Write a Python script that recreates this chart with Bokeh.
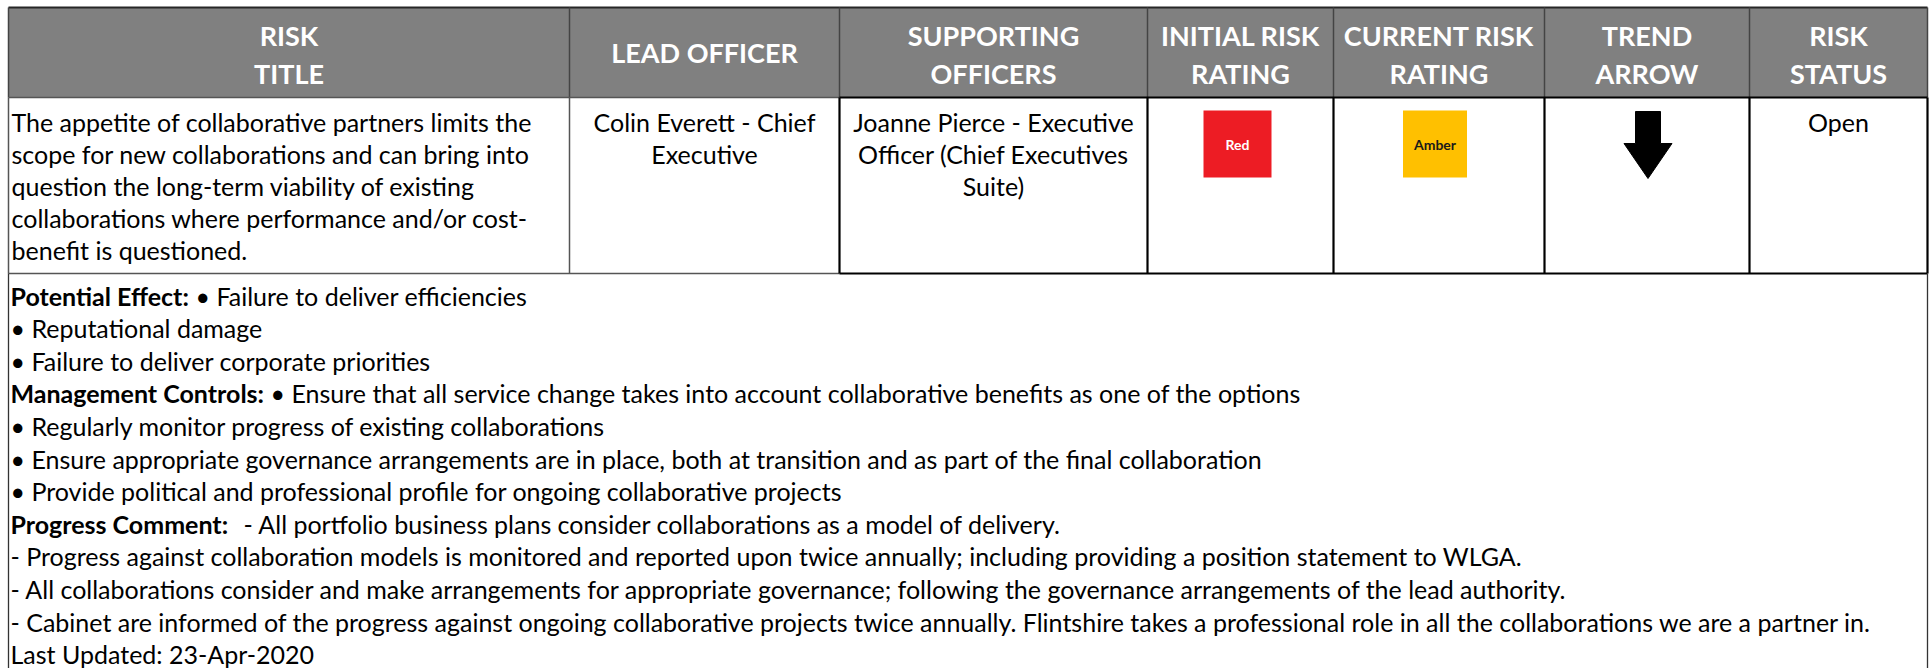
from bokeh.plotting import figure
from bokeh.models import Range1d
from bokeh.core.properties import value
from bokeh.embed import file_html
from bokeh.resources import INLINE

# ---------------- data ----------------
headers = [["RISK", "TITLE"], ["LEAD OFFICER"], ["SUPPORTING", "OFFICERS"],
           ["INITIAL RISK", "RATING"], ["CURRENT RISK", "RATING"],
           ["TREND", "ARROW"], ["RISK", "STATUS"]]
risk_title = ["The appetite of collaborative partners limits the",
              "scope for new collaborations and can bring into",
              "question the long-term viability of existing",
              "collaborations where performance and/or cost-",
              "benefit is questioned."]
lead_officer = ["Colin Everett - Chief", "Executive"]
supporting_officers = ["Joanne Pierce - Executive", "Officer (Chief Executives", "Suite)"]
initial_rating = "Red"
current_rating = "Amber"
trend = "down"
status = "Open"
detail_bold = ["Potential Effect:", "", "", "Management Controls:", "", "", "",
               "Progress Comment:", "", "", "", ""]
detail_text = ["• Failure to deliver efficiencies",
               "• Reputational damage",
               "• Failure to deliver corporate priorities",
               "• Ensure that all service change takes into account collaborative benefits as one of the options",
               "• Regularly monitor progress of existing collaborations",
               "• Ensure appropriate governance arrangements are in place, both at transition and as part of the final collaboration",
               "• Provide political and professional profile for ongoing collaborative projects",
               "- All portfolio business plans consider collaborations as a model of delivery.",
               "- Progress against collaboration models is monitored and reported upon twice annually; including providing a position statement to WLGA.",
               "- All collaborations consider and make arrangements for appropriate governance; following the governance arrangements of the lead authority.",
               "- Cabinet are informed of the progress against ongoing collaborative projects twice annually. Flintshire takes a professional role in all the collaborations we are a partner in.",
               "Last Updated: 23-Apr-2020"]
rating_colors = {"Red": "#ED1C24", "Amber": "#FFC000"}
rating_text_colors = {"Red": "#FFFFFF", "Amber": "#1a1a1a"}

# ---------------- layout ----------------
W, H = 1931, 668
col_edges = [8, 569, 839, 1147, 1333, 1544, 1749, 1927]
head_top, head_bot, row_bot = 7, 97, 273
FONT = "Lato"
BODY = "25px"
HEAD = "27px"

p = figure(width=W, height=H, x_range=Range1d(0, W), y_range=Range1d(H, 0),
           output_backend="svg", toolbar_location=None, min_border=0,
           x_axis_type=None, y_axis_type=None, outline_line_color=None,
           background_fill_color="white", border_fill_color="white")
p.xgrid.visible = False
p.ygrid.visible = False

# header background
p.quad(left=[col_edges[0]], right=[col_edges[-1]], top=[head_top], bottom=[head_bot],
       fill_color="#808080", line_color=None)

# header text
hx, hy, ht = [], [], []
for i, lines in enumerate(headers):
    cx = (col_edges[i] + col_edges[i + 1]) / 2
    if len(lines) == 1:
        ys = [(head_top + head_bot) / 2]
    else:
        ys = [35, 73]
    for y, t in zip(ys, lines):
        hx.append(cx); hy.append(y); ht.append(t)
p.text(x=hx, y=hy, text=ht, text_font=value(FONT), text_font_style="bold",
       text_font_size=value(HEAD), text_color="white", text_align="center",
       text_baseline="middle")

# borders
p.segment(x0=[col_edges[0]], y0=[head_top], x1=[col_edges[-1]], y1=[head_top],
          line_color="#262626", line_width=2)
p.segment(x0=col_edges[1:-1], y0=[head_top] * (len(col_edges) - 2),
          x1=col_edges[1:-1], y1=[head_bot] * (len(col_edges) - 2),
          line_color="#444444", line_width=1.5)
p.segment(x0=[col_edges[0], col_edges[-1]], y0=[head_top, head_top],
          x1=[col_edges[0], col_edges[-1]], y1=[head_bot, head_bot],
          line_color="#444444", line_width=1.5)
p.segment(x0=[col_edges[0], col_edges[1], col_edges[0], col_edges[0]],
          y0=[head_bot, head_bot, head_bot, row_bot],
          x1=[col_edges[0], col_edges[1], col_edges[2], col_edges[2]],
          y1=[row_bot, row_bot, head_bot, row_bot],
          line_color="#555555", line_width=1.5)
n = len(col_edges) - 2
p.segment(x0=col_edges[2:], y0=[head_bot] * n, x1=col_edges[2:], y1=[row_bot] * n,
          line_color="black", line_width=2.2)
p.segment(x0=[col_edges[2], col_edges[2]], y0=[head_bot, row_bot],
          x1=[col_edges[-1], col_edges[-1]], y1=[head_bot, row_bot],
          line_color="black", line_width=2.2)
p.segment(x0=[col_edges[0], col_edges[-1]], y0=[row_bot, row_bot],
          x1=[col_edges[0], col_edges[-1]], y1=[H, H],
          line_color="#333333", line_width=1.3)

# row text
lh = 32
tx, ty, tt = [], [], []
for k, t in enumerate(risk_title):
    tx.append(col_edges[0] + 3); ty.append(121 + k * lh); tt.append(t)
p.text(x=tx, y=ty, text=tt, text_font=value(FONT), text_font_size=value(BODY),
       text_color="black", text_align="left", text_baseline="middle")

cx, cy, ct = [], [], []
for ci, lines in ((1, lead_officer), (2, supporting_officers), (6, [status])):
    mid = (col_edges[ci] + col_edges[ci + 1]) / 2
    for k, t in enumerate(lines):
        cx.append(mid); cy.append(121 + k * lh); ct.append(t)
p.text(x=cx, y=cy, text=ct, text_font=value(FONT), text_font_size=value(BODY),
       text_color="black", text_align="center", text_baseline="middle")

# rating boxes
for ci, rating, dx, w in ((3, initial_rating, -3, 68), (4, current_rating, -4, 64)):
    mid = (col_edges[ci] + col_edges[ci + 1]) / 2 + dx
    p.rect(x=[mid], y=[143.5], width=[w], height=[67], fill_color=rating_colors[rating],
           line_color=None)
    p.text(x=[mid], y=[144], text=[rating], text_font=value(FONT), text_font_style="bold",
           text_font_size=value("14px"), text_color=rating_text_colors[rating],
           text_align="center", text_baseline="middle")

# trend arrow
if trend == "down":
    ax = (col_edges[5] + col_edges[6]) / 2 + 1
    top, neck, tip = 111, 143, 178
    xs = [ax - 12.5, ax + 12.5, ax + 12.5, ax + 24, ax, ax - 24, ax - 12.5]
    ys = [top, top, neck, neck, tip, neck, neck]
    p.patch(x=xs, y=ys, fill_color="black", line_color="black", line_width=1)

# detail lines
first_y = 295
line_step = 32.6
bx, by, bt = [], [], []
rx, ry, rt = [], [], []
offsets = {"Potential Effect:": 195, "Management Controls:": 270, "Progress Comment:": 243}
for k, (b, t) in enumerate(zip(detail_bold, detail_text)):
    y = first_y + k * line_step
    if b:
        bx.append(10); by.append(y); bt.append(b)
        rx.append(offsets[b]); ry.append(y); rt.append(t)
    else:
        rx.append(10); ry.append(y); rt.append(t)
p.text(x=bx, y=by, text=bt, text_font=value(FONT), text_font_style="bold",
       text_font_size=value(BODY), text_color="black", text_align="left",
       text_baseline="middle")
p.text(x=rx, y=ry, text=rt, text_font=value(FONT), text_font_size=value(BODY),
       text_color="black", text_align="left", text_baseline="middle")

open("out.html", "w").write(file_html(p, INLINE))
